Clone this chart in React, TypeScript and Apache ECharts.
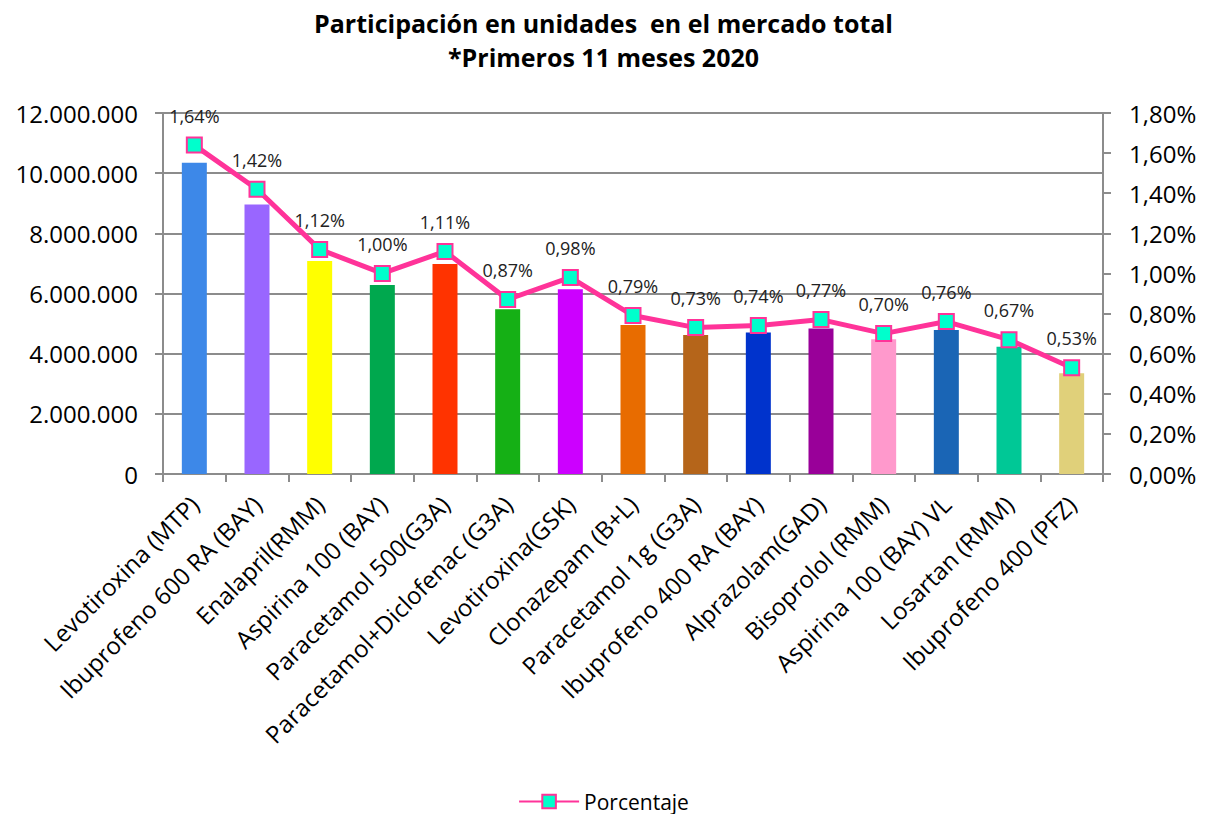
import React, { useEffect, useRef } from "react";
import * as echarts from "echarts";

const categories = [
  "Levotiroxina (MTP)",
  "Ibuprofeno 600 RA (BAY)",
  "Enalapril(RMM)",
  "Aspirina 100 (BAY)",
  "Paracetamol 500(G3A)",
  "Paracetamol+Diclofenac (G3A)",
  "Levotiroxina(GSK)",
  "Clonazepam (B+L)",
  "Paracetamol 1g (G3A)",
  "Ibuprofeno 400 RA (BAY)",
  "Alprazolam(GAD)",
  "Bisoprolol (RMM)",
  "Aspirina 100 (BAY) VL",
  "Losartan (RMM)",
  "Ibuprofeno 400 (PFZ)",
];

const unidades = [
  10350000, 8960000, 7080000, 6280000, 6980000, 5480000, 6140000, 4950000,
  4620000, 4700000, 4840000, 4480000, 4790000, 4230000, 3350000,
];

const porcentaje = [
  1.64, 1.42, 1.12, 1.0, 1.11, 0.87, 0.98, 0.79, 0.73, 0.74, 0.77, 0.7, 0.76,
  0.67, 0.53,
];

const barColors = [
  "#3D88E8", "#9966FF", "#FFFF00", "#00A84E", "#FF3300", "#15B015", "#CC00FF",
  "#E86C00", "#B5651A", "#0033CC", "#990099", "#FF99CC", "#1A65B5", "#00C896",
  "#E0D07A",
];

const leftTicks = { min: 0, max: 12000000, interval: 2000000 };
const rightTicks = { min: 0, max: 1.8, interval: 0.2 };

const FONT = "'Open Sans', 'Noto Sans', sans-serif";

function fmtThousands(v: number): string {
  return String(Math.round(v)).replace(/\B(?=(\d{3})+(?!\d))/g, ".");
}
function fmtPct(v: number): string {
  return v.toFixed(2).replace(".", ",") + "%";
}

export default function App() {
  const ref = useRef<HTMLDivElement>(null);
  useEffect(() => {
    if (!ref.current) return;
    const chart = echarts.init(ref.current, undefined, { renderer: "svg" });
    chart.setOption({
      animation: false,
      backgroundColor: "#ffffff",
      title: {
        text: "Participación en unidades  en el mercado total\n*Primeros 11 meses 2020",
        left: "center",
        top: 1,
        textStyle: {
          fontFamily: FONT,
          fontWeight: "bold",
          fontSize: 25,
          lineHeight: 34,
          color: "#000",
        },
      },
      legend: {
        data: ["Porcentaje"],
        top: 786,
        left: "center",
        itemWidth: 60,
        itemHeight: 17,
        itemGap: 8,
        textStyle: { fontFamily: FONT, fontSize: 21, color: "#000" },
      },
      grid: { left: 163, right: 104, top: 113, bottom: 340 },
      xAxis: {
        type: "category",
        data: categories,
        axisLine: { lineStyle: { color: "#8c8c8c", width: 2 } },
        axisTick: { show: true, length: 8, lineStyle: { color: "#8c8c8c", width: 2 } },
        axisLabel: {
          rotate: 45,
          interval: 0,
          margin: 26,
          fontFamily: FONT,
          fontSize: 24,
          color: "#000",
        },
      },
      yAxis: [
        {
          type: "value",
          ...leftTicks,
          axisLine: { show: true, lineStyle: { color: "#8c8c8c", width: 2 } },
          axisTick: { show: true, length: 8, lineStyle: { color: "#8c8c8c", width: 2 } },
          splitLine: { show: true, lineStyle: { color: "#8c8c8c", width: 2 } },
          axisLabel: {
            formatter: fmtThousands,
            fontFamily: FONT,
            fontSize: 24,
            color: "#000",
            margin: 25,
          },
        },
        {
          type: "value",
          ...rightTicks,
          position: "right",
          axisLine: { show: true, lineStyle: { color: "#8c8c8c", width: 2 } },
          axisTick: { show: true, length: 8, lineStyle: { color: "#8c8c8c", width: 2 } },
          splitLine: { show: false },
          axisLabel: {
            formatter: fmtPct,
            fontFamily: FONT,
            fontSize: 24,
            color: "#000",
            margin: 26,
          },
        },
      ],
      series: [
        {
          name: "Unidades",
          type: "bar",
          yAxisIndex: 0,
          barWidth: 25,
          data: unidades.map((v, i) => ({
            value: v,
            itemStyle: { color: barColors[i] },
          })),
        },
        {
          name: "Porcentaje",
          type: "line",
          yAxisIndex: 1,
          data: porcentaje,
          symbol: "rect",
          symbolSize: 15,
          lineStyle: { color: "#FF3399", width: 5 },
          itemStyle: { color: "#00FFCC", borderColor: "#FF3399", borderWidth: 2 },
          label: {
            show: true,
            position: "top",
            distance: 12,
            formatter: (p: any) => fmtPct(p.value),
            fontFamily: FONT,
            fontSize: 18,
            color: "#222",
          },
          z: 5,
        },
      ],
    });
    return () => chart.dispose();
  }, []);
  return (
    <div
      ref={ref}
      style={{ position: "fixed", left: 0, top: 0, width: 1207, height: 814 }}
    />
  );
}
